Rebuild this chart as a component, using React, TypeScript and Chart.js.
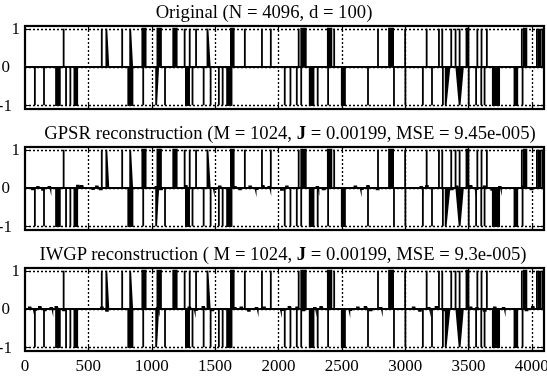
import React, { useEffect, useRef } from "react";
import { Chart, registerables } from "chart.js";
Chart.register(...registerables);

// ---------- data ----------
const X_MAX = 4096;
const X_TICKS = [0, 500, 1000, 1500, 2000, 2500, 3000, 3500, 4000];
const Y_TICKS = [-1, 0, 1];
const Y_MIN = -1.1;
const Y_MAX = 1.07;

// positive spikes (+1)
const posSpikes = [305, 606, 767, 1260, 1300, 1350, 1735, 1870, 1940, 2160, 2440, 2786, 3000, 3170, 3267, 3293, 3364, 3398, 3430, 3570, 3603, 3645, 3921, 4040, 4055, 4068, 4085];
const posBlockStart = [926, 1045, 1170, 1625, 2180, 2390, 2873, 3484, 3937];
const posBlockWidth = [26, 28, 27, 22, 36, 28, 32, 16, 20];
const posWedgeStart = [642, 830, 1440];
const posWedgeWidth = [16, 16, 18];

// negative spikes (-1)
const negSpikes = [78, 150, 324, 358, 933, 1105, 1322, 1410, 1465, 1530, 1560, 2050, 2095, 2145, 2180, 2310, 2392, 2707, 2912, 3002, 3140, 3212, 3298, 3502, 3560, 3601, 3627, 3927];
const negBlockStart = [245, 390, 815, 1270, 1595, 2247, 2500, 3692, 3863];
const negBlockWidth = [30, 22, 33, 25, 35, 30, 25, 50, 22];
const negWedgeStart = [1035, 3320];
const negWedgeWidth = [16, 30];
const negVeeStart = [3404];
const negVeeWidth = [52];

// small residual errors of the reconstructions
const gpsrNoiseX = [55, 95, 135, 185, 410, 440, 530, 560, 590, 1030, 1065, 1262, 1490, 1530, 1650, 1690, 1770, 1820, 1870, 1920, 2020, 2060, 2300, 2350, 2400, 2600, 2650, 2700, 2775, 3120, 3165, 3360, 3400, 3510, 3555, 3620, 3680, 3740, 3930, 3990];
const gpsrNoiseY = [-0.04, 0.03, -0.05, 0.03, 0.06, 0.05, -0.03, 0.04, -0.04, 0.03, -0.04, 0.05, -0.03, 0.04, 0.03, -0.04, 0.04, -0.03, 0.05, 0.03, -0.05, 0.04, 0.03, -0.04, 0.05, 0.04, -0.03, 0.05, -0.04, 0.03, 0.05, -0.04, 0.04, 0.05, -0.03, 0.04, -0.05, 0.03, 0.04, -0.04];
const iwgpNoiseX = [30, 70, 110, 150, 200, 240, 300, 600, 640, 1040, 1290, 1340, 1400, 1470, 1650, 1700, 1760, 1820, 1880, 2020, 2080, 2140, 2190, 2280, 2330, 2560, 2620, 2680, 2720, 2800, 3060, 3110, 3180, 3240, 3300, 3510, 3560, 3620, 3700, 3770, 3950, 4000];
const iwgpNoiseY = [0.04, -0.03, 0.05, -0.04, 0.03, 0.05, -0.04, 0.04, -0.05, 0.03, 0.04, -0.03, 0.05, -0.04, 0.03, 0.04, -0.05, 0.03, 0.04, -0.03, 0.05, 0.04, -0.04, 0.03, 0.05, -0.03, 0.04, 0.05, -0.04, 0.03, 0.04, -0.05, 0.03, 0.05, -0.04, 0.04, 0.03, -0.05, 0.04, 0.03, -0.04, 0.05];

// ---------- helpers ----------
type Pt = { x: number; y: number };
const FONT_NAME = "'Liberation Serif', 'Times New Roman', serif";
const NOISE_W = 14;

function buildSignal(value: number, spikes: number[], bs: number[], bw: number[], ws: number[], ww: number[], vs: number[] = [], vw: number[] = []): Pt[] {
  const items: { s: number; w: number; k: number }[] = [];
  spikes.forEach((s) => items.push({ s, w: 0, k: 0 }));
  bs.forEach((s, i) => items.push({ s, w: bw[i], k: 0 }));
  ws.forEach((s, i) => items.push({ s, w: ww[i], k: 1 }));
  vs.forEach((s, i) => items.push({ s, w: vw[i], k: 2 }));
  items.sort((a, b) => a.s - b.s);
  const pts: Pt[] = [{ x: 0, y: 0 }];
  for (const it of items) {
    if (it.k === 0) {
      pts.push({ x: it.s, y: 0 }, { x: it.s, y: value }, { x: it.s + it.w, y: value }, { x: it.s + it.w, y: 0 });
    } else if (it.k === 1) {
      pts.push({ x: it.s, y: 0 }, { x: it.s, y: value }, { x: it.s + it.w, y: 0 });
    } else {
      pts.push({ x: it.s, y: 0 }, { x: it.s + it.w / 2, y: value }, { x: it.s + it.w, y: 0 });
    }
  }
  pts.push({ x: X_MAX, y: 0 });
  return pts;
}

function buildNoise(xs: number[], ys: number[]): Pt[] {
  const pts: Pt[] = [{ x: 0, y: 0 }];
  xs.forEach((x, i) => {
    pts.push({ x: x - 2, y: 0 }, { x, y: ys[i] }, { x: x + NOISE_W, y: ys[i] }, { x: x + NOISE_W + 2, y: 0 });
  });
  pts.push({ x: X_MAX, y: 0 });
  return pts;
}

const posSignal = buildSignal(1, posSpikes, posBlockStart, posBlockWidth, posWedgeStart, posWedgeWidth);
const negSignal = buildSignal(-1, negSpikes, negBlockStart, negBlockWidth, negWedgeStart, negWedgeWidth, negVeeStart, negVeeWidth);

// right edge of each y tick label (the reference sets them unevenly)
const Y_LABEL_RIGHT: Record<string, number> = { "1": 20, "0": 10, "-1": 12 };

const matlabAxes = {
  id: "matlabAxes",
  beforeDatasetsDraw(chart: any) {
    const { ctx, chartArea: a, scales } = chart;
    ctx.save();
    ctx.strokeStyle = "#000";
    ctx.lineWidth = 1.3;
    ctx.setLineDash([2, 2]);
    ctx.beginPath();
    X_TICKS.forEach((v) => {
      if (v <= 0 || v >= X_MAX) return;
      const x = Math.round(scales.x.getPixelForValue(v)) + 0.5;
      ctx.moveTo(x, a.top);
      ctx.lineTo(x, a.bottom);
    });
    Y_TICKS.forEach((v) => {
      const y = Math.round(scales.y.getPixelForValue(v)) + 0.5;
      ctx.moveTo(a.left, y);
      ctx.lineTo(a.right, y);
    });
    ctx.stroke();
    ctx.restore();
  },
  afterDatasetsDraw(chart: any, _args: any, opts: any) {
    const { ctx, chartArea: a, scales } = chart;
    ctx.save();
    ctx.strokeStyle = "#000";
    ctx.lineWidth = 1;
    ctx.beginPath();
    X_TICKS.forEach((v) => {
      const x = Math.round(scales.x.getPixelForValue(v)) + 0.5;
      ctx.moveTo(x, a.bottom);
      ctx.lineTo(x, a.bottom - 5);
      ctx.moveTo(x, a.top);
      ctx.lineTo(x, a.top + 5);
    });
    Y_TICKS.forEach((v) => {
      const y = Math.round(scales.y.getPixelForValue(v)) + 0.5;
      ctx.moveTo(a.left, y);
      ctx.lineTo(a.left + 5, y);
      ctx.moveTo(a.right, y);
      ctx.lineTo(a.right - 5, y);
    });
    ctx.stroke();
    ctx.lineWidth = 2.2;
    ctx.strokeRect(a.left, a.top, a.right - a.left, a.bottom - a.top);

    // tick labels
    ctx.fillStyle = "#000";
    ctx.font = `17px ${FONT_NAME}`;
    ctx.textBaseline = "middle";
    ctx.textAlign = "right";
    Y_TICKS.forEach((v) => {
      const label = String(v);
      ctx.fillText(label, Y_LABEL_RIGHT[label] ?? a.left - 5, scales.y.getPixelForValue(v) + 1);
    });
    if (opts && opts.showX) {
      ctx.textAlign = "center";
      X_TICKS.forEach((v) => {
        ctx.fillText(String(v), scales.x.getPixelForValue(v), a.bottom + 16);
      });
    }
    ctx.restore();
  },
};

type PanelProps = { top: number; plotH: number; showX: boolean; noiseX?: number[]; noiseY?: number[] };

const PAD_TOP = 12;
const PAD_BOT_PLAIN = 12;
const PAD_BOT_X = 28;

function Panel({ top, plotH, showX, noiseX, noiseY }: PanelProps) {
  const ref = useRef<HTMLCanvasElement>(null);
  const padBot = showX ? PAD_BOT_X : PAD_BOT_PLAIN;
  const height = PAD_TOP + plotH + padBot;
  useEffect(() => {
    if (!ref.current) return;
    const lineDs = (data: Pt[], fill: boolean) => ({
      data,
      borderColor: "#000",
      backgroundColor: "#000",
      borderWidth: 1.8,
      pointRadius: 0,
      tension: 0,
      fill: fill ? "origin" : false,
      spanGaps: true,
    });
    const datasets: any[] = [lineDs(posSignal, true), lineDs(negSignal, true)];
    if (noiseX && noiseY) datasets.push(lineDs(buildNoise(noiseX, noiseY), false));
    const chart = new Chart(ref.current, {
      type: "line",
      data: { datasets },
      plugins: [matlabAxes],
      options: {
        animation: false,
        responsive: false,
        maintainAspectRatio: false,
        events: [],
        parsing: false,
        layout: { padding: { top: PAD_TOP, right: 3, left: 0, bottom: padBot } },
        plugins: {
          legend: { display: false },
          title: { display: false },
          tooltip: { enabled: false },
          matlabAxes: { showX },
        },
        scales: {
          x: {
            type: "linear",
            min: 0,
            max: X_MAX,
            afterBuildTicks: (s: any) => {
              s.ticks = X_TICKS.map((value) => ({ value }));
            },
            afterFit: (s: any) => {
              s.height = 0;
            },
            ticks: { display: false },
            grid: { display: false, drawTicks: false },
            border: { display: false },
          },
          y: {
            type: "linear",
            min: Y_MIN,
            max: Y_MAX,
            afterBuildTicks: (s: any) => {
              s.ticks = Y_TICKS.map((value) => ({ value }));
            },
            afterFit: (s: any) => {
              s.width = 25;
            },
            ticks: { display: false },
            grid: { display: false, drawTicks: false },
            border: { display: false },
          },
        },
      } as any,
    });
    return () => chart.destroy();
  }, []);
  return (
    <canvas
      ref={ref}
      width={547}
      height={height}
      style={{ position: "absolute", left: 0, top: top - PAD_TOP, width: 547, height }}
    />
  );
}

function Title({ cx, cy, children }: { cx: number; cy: number; children: React.ReactNode }) {
  return (
    <div
      style={{
        position: "absolute",
        left: cx - 300,
        top: cy - 11,
        width: 600,
        textAlign: "center",
        fontFamily: FONT_NAME,
        fontSize: 18.7,
        lineHeight: "22px",
        whiteSpace: "nowrap",
        color: "#000",
      }}
    >
      {children}
    </div>
  );
}

export default function App() {
  return (
    <div style={{ position: "fixed", left: 0, top: 0, width: 547, height: 379, background: "#fff", overflow: "hidden" }}>
      <Panel top={26} plotH={83} showX={false} />
      <Panel top={147} plotH={83} showX={false} noiseX={gpsrNoiseX} noiseY={gpsrNoiseY} />
      <Panel top={268} plotH={83} showX={true} noiseX={iwgpNoiseX} noiseY={iwgpNoiseY} />
      <Title cx={264} cy={12}>Original (N = 4096, d = 100)</Title>
      <Title cx={290} cy={133}>
        GPSR reconstruction (M = 1024, <b>J</b> = 0.00199, MSE = 9.45e-005)
      </Title>
      <Title cx={283} cy={254}>
        IWGP reconstruction ( M = 1024, <b>J</b> = 0.00199, MSE = 9.3e-005)
      </Title>
    </div>
  );
}
